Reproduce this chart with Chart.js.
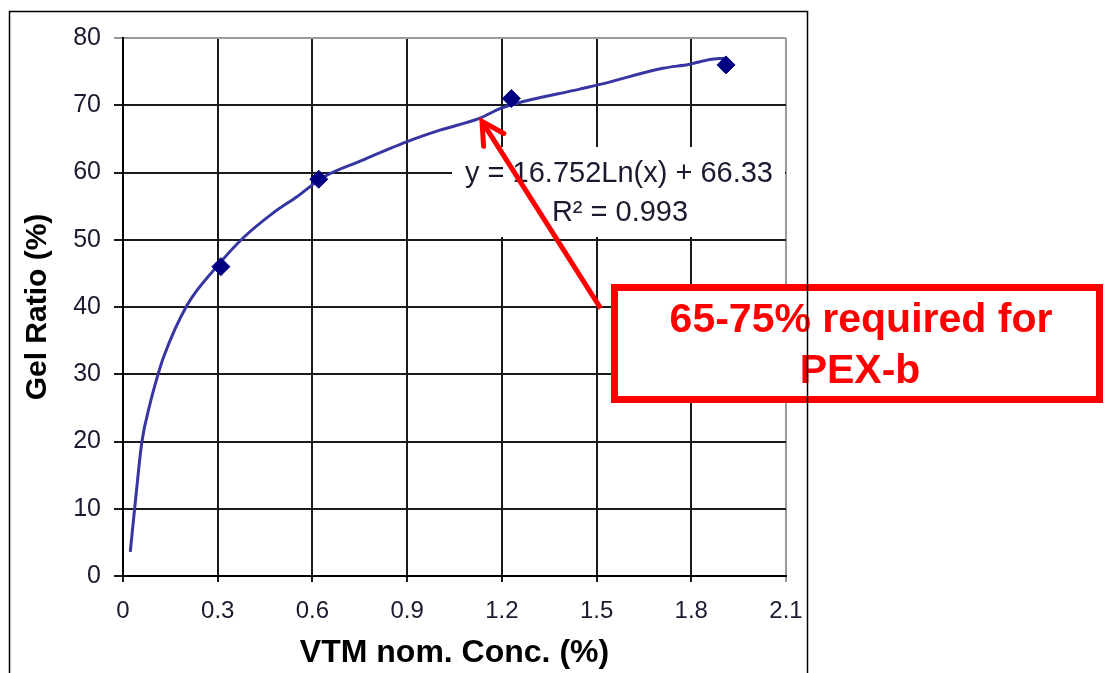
<!DOCTYPE html>
<html>
<head>
<meta charset="utf-8">
<script src="https://cdn.jsdelivr.net/npm/chart.js@4.4.1/dist/chart.umd.min.js"></script>
<style>
  html, body { margin: 0; padding: 0; background: #fff; }
  canvas { display: block; }
</style>
</head>
<body>
<canvas id="gelChart" width="1106" height="673"></canvas>
<script>
// measured points: VTM nominal concentration (%) vs gel ratio (%)
const concX = [0.31, 0.62, 1.23, 1.91];
const gelY = [46, 59, 71, 76];

// logarithmic trendline
const trendX = [0.023, 0.039, 0.060, 0.085, 0.108, 0.128, 0.202, 0.297, 0.381, 0.476,
                0.551, 0.634, 0.751, 0.900, 1.004, 1.131, 1.194, 1.247, 1.447, 1.511,
                1.710, 1.795, 1.859, 1.906];
const trendY = [3.6, 11.0, 20.0, 25.5, 29.5, 32.5, 40.2, 46.0, 50.3, 54.0,
                56.4, 59.3, 61.7, 64.6, 66.3, 68.1, 69.5, 70.3, 72.4, 73.1,
                75.5, 76.1, 76.8, 77.0];

const xTicks = [0, 0.3, 0.6, 0.9, 1.2, 1.5, 1.8, 2.1];
const yTicks = [0, 10, 20, 30, 40, 50, 60, 70, 80];

const eqLines = ['y = 16.752Ln(x) + 66.33', 'R\u00B2 = 0.993'];
const noteLines = ['65-75% required for', 'PEX-b'];

const FONT = 'Arial, "Liberation Sans", sans-serif';
const TEXT = '#1a1a30';

const toXY = (xs, ys) => xs.map((v, i) => ({ x: v, y: ys[i] }));

// white label box + equation, arrow, red note box, outer frame
const overlay = {
    id: 'overlay',
    beforeDatasetsDraw(chart) {
        const ctx = chart.ctx;
        ctx.save();
        ctx.fillStyle = '#fff';
        ctx.fillRect(452, 147, 333, 90);
        ctx.fillStyle = TEXT;
        ctx.font = '29px ' + FONT;
        ctx.textAlign = 'center';
        ctx.textBaseline = 'middle';
        ctx.fillText(eqLines[0], 619, 174);
        ctx.fillText(eqLines[1], 620, 213);
        ctx.restore();
    },
    afterDatasetsDraw(chart) {
        const { ctx, scales: { x, y } } = chart;
        ctx.save();

        // arrow pointing at the curve
        const tipX = x.getPixelForValue(1.137), tipY = y.getPixelForValue(67.6);
        const tailX = x.getPixelForValue(1.513), tailY = y.getPixelForValue(39.8);
        const ang = Math.atan2(tailY - tipY, tailX - tipX);
        ctx.strokeStyle = '#ff0000';
        ctx.lineWidth = 5;
        ctx.lineCap = 'butt';
        ctx.beginPath();
        ctx.moveTo(tailX, tailY);
        ctx.lineTo(tipX, tipY);
        ctx.stroke();
        ctx.lineCap = 'round';
        ctx.beginPath();
        ctx.moveTo(tipX + 25 * Math.cos(ang - 0.5), tipY + 25 * Math.sin(ang - 0.5));
        ctx.lineTo(tipX, tipY);
        ctx.lineTo(tipX + 25 * Math.cos(ang + 0.5), tipY + 25 * Math.sin(ang + 0.5));
        ctx.stroke();

        // red note box
        ctx.fillStyle = '#fff';
        ctx.fillRect(611, 284, 492, 119);
        ctx.lineWidth = 7;
        ctx.strokeRect(614.5, 287.5, 485, 112);
        ctx.fillStyle = '#ff0000';
        ctx.font = 'bold 41px ' + FONT;
        ctx.textAlign = 'center';
        ctx.textBaseline = 'middle';
        ctx.fillText(noteLines[0], 861, 321);
        ctx.fillText(noteLines[1], 860, 372);

        // outer frame
        ctx.strokeStyle = '#000';
        ctx.lineWidth = 1.5;
        ctx.strokeRect(9.5, 11.5, 798, 700);
        ctx.restore();
    }
};

new Chart(document.getElementById('gelChart'), {
    type: 'scatter',
    data: {
        datasets: [
            {
                label: 'Measured',
                data: toXY(concX, gelY),
                pointStyle: 'rectRot',
                pointRadius: 9,
                backgroundColor: '#000080',
                borderColor: '#000080',
                borderWidth: 1,
                showLine: false,
            },
            {
                label: 'Log trend',
                data: toXY(trendX, trendY),
                showLine: true,
                pointRadius: 0,
                borderColor: '#3636a2',
                borderWidth: 3,
                cubicInterpolationMode: 'monotone',
                fill: false,
            },
        ],
    },
    options: {
        responsive: false,
        animation: false,
        devicePixelRatio: 1,
        events: [],
        layout: { padding: { left: 0, top: 38, right: 320, bottom: 0 } },
        plugins: {
            legend: { display: false },
            tooltip: { enabled: false },
        },
        scales: {
            x: {
                type: 'linear',
                min: 0,
                max: 2.1,
                afterBuildTicks: s => { s.ticks = xTicks.map(v => ({ value: v })); },
                afterFit: s => { s.height = 97; },
                grid: {
                    color: c => (c.tick && c.tick.value === 2.1 ? '#9a9a9a' : '#1a1a1a'),
                    lineWidth: 2,
                    tickLength: 6,
                },
                border: { color: '#000', width: 2 },
                ticks: {
                    color: TEXT,
                    font: { family: FONT, size: 24 },
                    padding: 15,
                    maxRotation: 0,
                    callback: v => String(v),
                },
                title: {
                    display: true,
                    text: 'VTM nom. Conc. (%)',
                    color: '#000',
                    font: { family: FONT, size: 32, weight: 'bold' },
                    padding: { top: 0, bottom: 1 },
                },
            },
            y: {
                type: 'linear',
                min: 0,
                max: 80,
                afterBuildTicks: s => { s.ticks = yTicks.map(v => ({ value: v })); },
                afterFit: s => { s.width = 123; },
                grid: {
                    color: c => (c.tick && c.tick.value === 80 ? '#9a9a9a' : '#1a1a1a'),
                    lineWidth: 2,
                    tickLength: 9,
                },
                border: { color: '#000', width: 2 },
                ticks: {
                    color: TEXT,
                    font: { family: FONT, size: 25 },
                    padding: 13,
                    callback: v => String(v),
                },
                title: {
                    display: true,
                    text: 'Gel Ratio (%)',
                    color: '#000',
                    font: { family: FONT, size: 30, weight: 'bold' },
                    padding: { top: 20, bottom: 0 },
                },
            },
        },
    },
    plugins: [overlay],
});
</script>
</body>
</html>
